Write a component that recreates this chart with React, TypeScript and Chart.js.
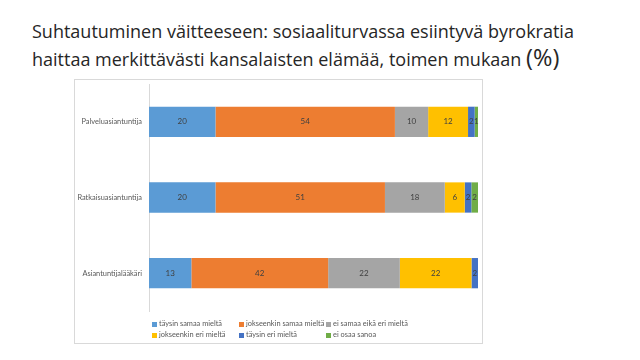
import React, { useEffect, useRef } from "react";
import { Chart, registerables } from "chart.js";

Chart.register(...registerables);

const categories = ["Palveluasiantuntija", "Ratkaisuasiantuntija", "Asiantuntijalääkäri"];
const seriesNames = [
  "täysin samaa mieltä",
  "jokseenkin samaa mieltä",
  "ei samaa eikä eri mieltä",
  "jokseenkin eri mieltä",
  "täysin eri mieltä",
  "ei osaa sanoa",
];
const taysinSamaa = [20, 20, 13];
const jokseenkinSamaa = [54, 51, 42];
const eiSamaaEikaEri = [10, 18, 22];
const jokseenkinEri = [12, 6, 22];
const taysinEri = [2, 2, 2];
const eiOsaa = [1, 2, 0];
const seriesColors = ["#5B9BD5", "#ED7D31", "#A5A5A5", "#FFC000", "#4472C4", "#70AD47"];

const TITLE_FONT = "'Open Sans', 'DejaVu Sans', sans-serif";
const FONT = "Lato, 'Open Sans', sans-serif";
const SMALL = 7.4;

export default function App() {
  const ref = useRef<HTMLCanvasElement | null>(null);
  useEffect(() => {
    if (!ref.current) return;
    const raw = [taysinSamaa, jokseenkinSamaa, eiSamaaEikaEri, jokseenkinEri, taysinEri, eiOsaa];
    const totals = categories.map((_, i) => raw.reduce((s, arr) => s + arr[i], 0));
    const datasets = raw.map((arr, k) => ({
      label: seriesNames[k],
      data: arr.map((v, i) => (v / totals[i]) * 100),
      rawValues: arr,
      backgroundColor: seriesColors[k],
      borderWidth: 0,
      barPercentage: 0.4,
      categoryPercentage: 1,
    }));
    const labelPlugin = {
      id: "segLabels",
      afterDatasetsDraw(chart: any) {
        const ctx = chart.ctx;
        ctx.save();
        ctx.font = `8px ${FONT}`;
        ctx.fillStyle = "#404040";
        ctx.textAlign = "center";
        ctx.textBaseline = "middle";
        chart.data.datasets.forEach((ds: any, di: number) => {
          const meta = chart.getDatasetMeta(di);
          meta.data.forEach((bar: any, i: number) => {
            const v = ds.rawValues[i];
            if (!v) return;
            const x = (bar.x + bar.base) / 2;
            ctx.fillText(String(v), x, bar.y);
          });
        });
        ctx.restore();
      },
    };
    const chart = new Chart(ref.current, {
      type: "bar",
      data: { labels: categories, datasets: datasets as any },
      options: {
        indexAxis: "y",
        animation: false,
        responsive: false,
        maintainAspectRatio: false,
        layout: { padding: { left: 0, right: 5, top: 5, bottom: 33 } },
        plugins: { legend: { display: false }, tooltip: { enabled: false } },
        scales: {
          x: { stacked: true, min: 0, max: 100, display: false },
          y: {
            stacked: true,
            grid: { display: false, drawTicks: false },
            border: { display: true, color: "#D9D9D9", width: 1 },
            ticks: { color: "#595959", font: { family: FONT, size: SMALL }, padding: 7 },
            afterFit: (scale: any) => {
              scale.width = 75;
              scale.paddingTop = 0;
              scale.paddingBottom = 0;
            },
          },
        },
      },
      plugins: [labelPlugin],
    });
    return () => chart.destroy();
  }, []);

  const legendPos = [
    { left: 152, top: 319 },
    { left: 239, top: 319 },
    { left: 326, top: 319 },
    { left: 152, top: 330 },
    { left: 239, top: 330 },
    { left: 326, top: 330 },
  ];

  return (
    <div style={{ position: "absolute", left: 0, top: 0, width: 640, height: 360, background: "#fff", fontFamily: TITLE_FONT }}>
      <div style={{ position: "absolute", left: 32, top: 18.3, fontSize: 18, lineHeight: "26px", color: "#262626", whiteSpace: "nowrap" }}>
        <div>Suhtautuminen väitteeseen: sosiaaliturvassa esiintyvä byrokratia</div>
        <div>
          haittaa merkittävästi kansalaisten elämää, toimen mukaan <span style={{ fontSize: 23.5 }}>(%)</span>
        </div>
      </div>
      <div
        style={{
          position: "absolute",
          left: 74,
          top: 79,
          width: 409,
          height: 265,
          border: "1px solid #D9D9D9",
          boxSizing: "border-box",
        }}
      />
      <canvas ref={ref} width={409} height={265} style={{ position: "absolute", left: 74, top: 79 }} />
      {seriesNames.map((n, k) => (
        <div
          key={n}
          style={{
            position: "absolute",
            left: legendPos[k].left,
            top: legendPos[k].top,
            fontSize: SMALL,
            lineHeight: "10px",
            fontFamily: FONT,
            color: "#595959",
            whiteSpace: "nowrap",
            display: "flex",
            alignItems: "center",
          }}
        >
          <span style={{ display: "inline-block", width: 5, height: 5, background: seriesColors[k], marginRight: 2 }} />
          {n}
        </div>
      ))}
    </div>
  );
}
